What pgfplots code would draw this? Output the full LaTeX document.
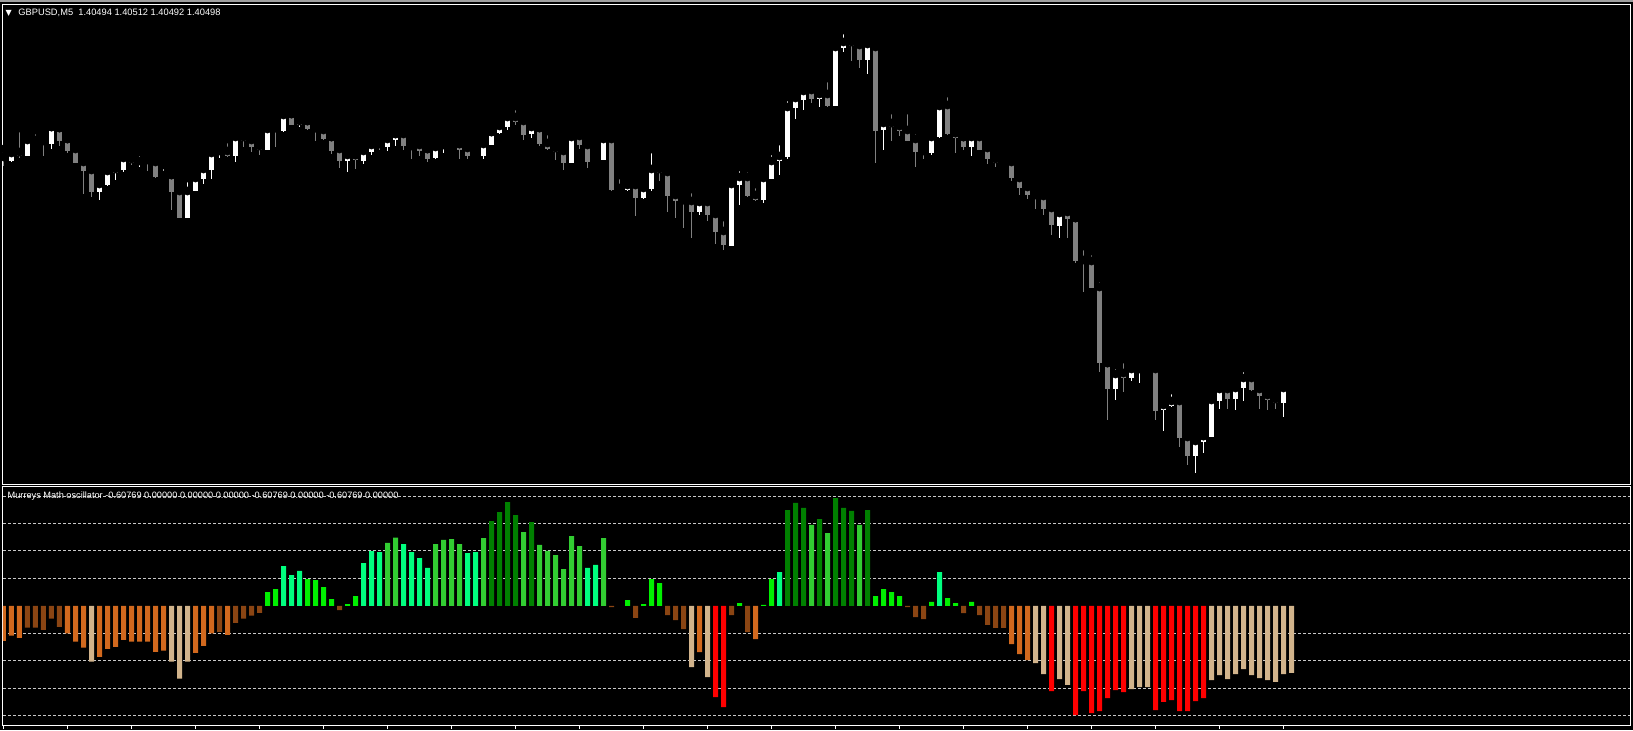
\documentclass[border=0pt]{standalone}
\usepackage{pgfplots}
\pgfplotsset{compat=1.18}
\usepackage{pgfplotstable}
\usepackage{fontspec}
\setmainfont{Liberation Sans}
\newfontfamily\dejavu{DejaVu Sans}
\definecolor{candlegray}{HTML}{808080}
\definecolor{choc}{HTML}{D2691E}
\definecolor{sbrown}{HTML}{8B4513}
\definecolor{tanc}{HTML}{D2B48C}
\definecolor{oscred}{HTML}{FF0000}
\definecolor{osclime}{HTML}{00F000}
\definecolor{spring}{HTML}{00FF7F}
\definecolor{limeg}{HTML}{32CD32}
\definecolor{dgreen}{HTML}{008000}
\definecolor{gridc}{HTML}{C8C8C8}

% candles: bar index, wick top, body top, body bottom, wick bottom (chart rows, larger = lower price)
\pgfplotstableread{
i hi bt bb lo
1 146 153 161 162
3 136 140 156 156
6 127 127 144 149
12 183 184 192 200
13 163 171 185 186
14 163 169 173 180
15 154 158 170 172
17 152 161 163 167
20 165 175 177 177
23 178 191 218 218
24 171 178 191 191
25 168 169 179 184
26 150 153 170 179
27 150 151 154 158
29 131 137 156 162
33 128 129 150 150
35 114 115 131 132
37 116 121 125 127
43 153 155 161 172
45 143 151 161 164
46 140 145 152 155
48 137 139 147 151
49 134 134 140 146
54 146 147 158 159
55 139 145 148 153
60 141 144 156 159
61 132 132 145 145
62 122 126 133 134
63 112 117 127 130
66 123 127 134 138
71 130 137 163 163
74 151 159 162 163
75 134 139 160 160
78 184 185 190 191
80 182 188 198 199
81 149 169 189 191
87 195 202 212 215
91 178 184 246 246
92 167 177 185 205
95 176 178 200 203
96 151 161 179 179
97 141 156 161 175
98 97 107 157 159
99 93 98 108 119
100 90 91 100 110
102 86 94 99 107
104 44 47 106 106
105 30 42 48 52
108 43 44 60 74
110 122 123 130 150
116 132 137 153 155
117 104 106 137 138
121 135 137 147 156
132 211 213 226 238
139 365 374 389 400
141 363 369 378 381
142 366 369 370 383
145 398 405 410 431
146 390 401 406 407
149 436 441 456 473
150 436 436 442 453
151 396 400 437 437
152 384 389 401 409
154 385 388 399 410
155 368 378 388 401
160 383 388 403 417
161 380 385 387 388
}\bullish

\pgfplotstableread{
i hi bt bb lo
0 149 157 160 166
2 128 152 156 158
4 130 140 142 143
5 138 141 144 156
7 128 128 141 146
8 139 139 151 153
9 144 149 163 163
10 158 162 171 194
11 168 170 192 197
16 151 159 163 165
18 159 160 161 171
19 159 162 177 178
21 175 175 192 210
22 188 191 218 218
28 139 151 156 157
30 133 137 141 147
31 138 140 147 152
32 144 146 150 155
34 128 128 129 147
36 114 114 125 125
38 121 121 129 130
39 128 128 131 141
40 128 130 139 140
41 137 137 151 154
42 147 149 161 168
44 155 155 160 169
47 139 144 147 150
50 132 134 146 150
51 140 146 147 159
52 144 145 151 156
53 149 149 159 162
57 144 144 150 159
58 147 148 156 159
64 106 117 122 125
65 114 121 135 140
67 128 128 144 146
68 131 143 149 150
69 146 148 152 160
70 149 151 163 170
72 135 136 145 149
73 142 145 162 168
76 136 139 190 191
77 175 188 190 191
79 184 185 198 216
82 168 169 173 181
83 167 172 196 212
84 194 195 201 218
85 200 200 203 228
86 189 201 212 238
88 198 202 215 221
89 213 214 232 244
90 217 231 245 250
93 168 177 196 197
94 184 195 200 201
101 88 90 99 103
103 78 94 106 107
106 41 42 46 61
107 37 45 60 68
109 44 47 131 163
111 110 123 127 141
112 119 126 131 136
113 110 130 141 141
114 130 139 152 167
115 143 151 153 159
118 93 105 134 135
119 133 133 138 153
120 137 137 147 150
122 132 137 150 150
123 146 148 159 164
124 154 159 163 167
126 160 162 178 181
127 177 178 188 195
128 183 187 195 199
129 189 195 197 209
130 194 196 209 215
131 204 208 225 235
133 211 212 219 238
134 218 218 261 263
135 246 260 263 292
136 251 261 288 288
137 278 287 363 372
138 363 363 389 420
140 359 373 378 392
144 365 369 411 420
147 400 401 438 447
148 433 437 456 465
153 383 389 399 409
156 370 378 390 391
157 387 389 396 409
158 394 395 400 410
159 391 399 403 409
}\bearish

\begin{document}
\begin{tikzpicture}
\path[use as bounding box, fill=black] (0,0) rectangle (816.5pt,365pt);
\fill[gray!75] (0,363.8pt) rectangle (816.5pt,365pt);

% ---------------- price panel ----------------
\begin{axis}[
  at={(1.5pt,123pt)}, anchor=south west,
  width=813.5pt, height=240pt, scale only axis,
  xmin=-0.0625, xmax=203.3125, ymin=4, ymax=484, y dir=reverse,
  enlargelimits=false,
  axis line style={white, line width=0.5pt},
  ticks=none,
]
\addplot[only marks, mark=none, error bars/.cd, y dir=plus, y explicit, error mark=none,
  error bar style={draw=candlegray, line width=0.5pt}]
  table[x=i, y=hi, y error plus expr=\thisrow{lo}-\thisrow{hi}] {\bearish};
\addplot[only marks, mark=none, error bars/.cd, y dir=plus, y explicit, error mark=none,
  error bar style={draw=candlegray, line width=2.5pt}]
  table[x=i, y=bt, y error plus expr={max(\thisrow{bb}-\thisrow{bt},1)}] {\bearish};
\addplot[only marks, mark=none, error bars/.cd, y dir=plus, y explicit, error mark=none,
  error bar style={draw=white, line width=0.5pt}]
  table[x=i, y=hi, y error plus expr=\thisrow{lo}-\thisrow{hi}] {\bullish};
\addplot[only marks, mark=none, error bars/.cd, y dir=plus, y explicit, error mark=none,
  error bar style={draw=white, line width=2.5pt}]
  table[x=i, y=bt, y error plus expr={max(\thisrow{bb}-\thisrow{bt},1)}] {\bullish};
\end{axis}

% ---------------- oscillator panel ----------------
\begin{axis}[
  at={(1.5pt,2.5pt)}, anchor=south west,
  width=813.5pt, height=119.25pt, scale only axis,
  xmin=-0.0625, xmax=203.3125, ymin=-4.35, ymax=4.35,
  enlargelimits=false,
  axis line style={white, line width=0.5pt},
  ybar, bar width=2.5pt, bar shift=0pt,
  ytick={-4,-3,-2,-1,1,2,3,4}, yticklabels={}, ymajorgrids,
  ytick style={draw=none},
  grid style={gridc, line width=0.5pt, dash pattern=on 1.5pt off 1pt},
  xtick={0,8,...,160}, xticklabels={}, xtick pos=bottom,
  tick align=outside, major tick length=2pt,
  xtick style={white, line width=0.5pt},
]
\addplot[draw=none, fill=choc] coordinates {(0,-1.28)(1,-1.09)(2,-1.17)(8,-1.01)(9,-1.31)(10,-1.53)(12,-1.86)(13,-1.57)(14,-1.50)(15,-1.24)(16,-1.31)(17,-1.31)(18,-1.31)(19,-1.68)(20,-1.64)(24,-1.72)(25,-1.46)(26,-1.01)(28,-1.06)(87,-1.69)(94,-1.22)(126,-1.40)(127,-1.76)(128,-1.98)};
\addplot[draw=none, fill=sbrown] coordinates {(3,-0.80)(4,-0.80)(5,-0.88)(6,-0.47)(7,-0.77)(27,-0.95)(29,-0.62)(30,-0.47)(31,-0.36)(32,-0.26)(42,-0.16)(76,-0.05)(79,-0.44)(83,-0.34)(84,-0.52)(85,-0.85)(91,-0.34)(93,-0.96)(113,-0.05)(114,-0.41)(115,-0.49)(120,-0.27)(122,-0.34)(123,-0.70)(124,-0.81)(125,-0.81)};
\addplot[draw=none, fill=tanc] coordinates {(11,-2.04)(21,-2.04)(22,-2.66)(23,-2.04)(86,-2.24)(88,-2.60)(129,-2.09)(130,-2.49)(132,-2.68)(133,-2.89)(141,-3.04)(142,-2.97)(143,-2.97)(151,-2.71)(152,-2.53)(153,-2.68)(154,-2.49)(155,-2.31)(156,-2.53)(157,-2.64)(158,-2.71)(159,-2.78)(160,-2.49)(161,-2.45)};
\addplot[draw=none, fill=oscred] coordinates {(89,-3.33)(90,-3.70)(131,-3.11)(134,-3.99)(135,-3.11)(136,-3.92)(137,-3.84)(138,-3.37)(139,-3.08)(140,-3.15)(144,-3.81)(145,-3.51)(146,-3.44)(147,-3.84)(148,-3.84)(149,-3.48)(150,-3.37)};
\addplot[draw=none, fill=osclime] coordinates {(33,0.50)(34,0.61)(38,0.97)(39,0.94)(40,0.68)(41,0.24)(43,0.06)(44,0.35)(78,0.21)(80,0.06)(81,0.97)(82,0.83)(92,0.10)(95,0.03)(96,0.97)(109,0.35)(110,0.61)(111,0.50)(112,0.35)(116,0.14)(118,0.28)(119,0.10)(121,0.14)};
\addplot[draw=none, fill=spring] coordinates {(35,1.45)(36,1.12)(37,1.27)(45,1.56)(46,1.99)(47,1.96)(50,2.25)(51,1.96)(52,1.74)(53,1.38)(58,1.92)(59,1.96)(73,1.38)(74,1.49)(97,1.23)(117,1.23)};
\addplot[draw=none, fill=limeg] coordinates {(48,2.29)(49,2.49)(54,2.25)(55,2.40)(56,2.43)(57,2.25)(60,2.47)(65,2.69)(67,2.22)(68,2.00)(69,1.85)(70,1.34)(71,2.54)(72,2.18)(75,2.47)(101,2.95)(103,2.65)(107,2.95)};
\addplot[draw=none, fill=dgreen] coordinates {(61,3.09)(62,3.42)(63,3.78)(64,3.31)(66,3.05)(98,3.49)(99,3.75)(100,3.57)(102,3.16)(104,3.93)(105,3.57)(106,3.46)(108,3.49)};
\end{axis}

\node[anchor=center, inner sep=0pt, text=white, font=\dejavu\fontsize{4}{4}\selectfont] at (4.4pt,358.5pt) {▼};
\node[anchor=base west, inner sep=0pt, text=white, font=\fontsize{4.65}{5}\selectfont] at (9pt,357pt) {GBPUSD,M5\ \ 1.40494 1.40512 1.40492 1.40498};
\node[anchor=base west, inner sep=0pt, text=white, font=\fontsize{4.6}{5}\selectfont] at (3.65pt,115.65pt) {Murreys Math oscillator -0.60769 0.00000 0.00000 0.00000 -0.60769 0.00000 -0.60769 0.00000};
\end{tikzpicture}
\end{document}
